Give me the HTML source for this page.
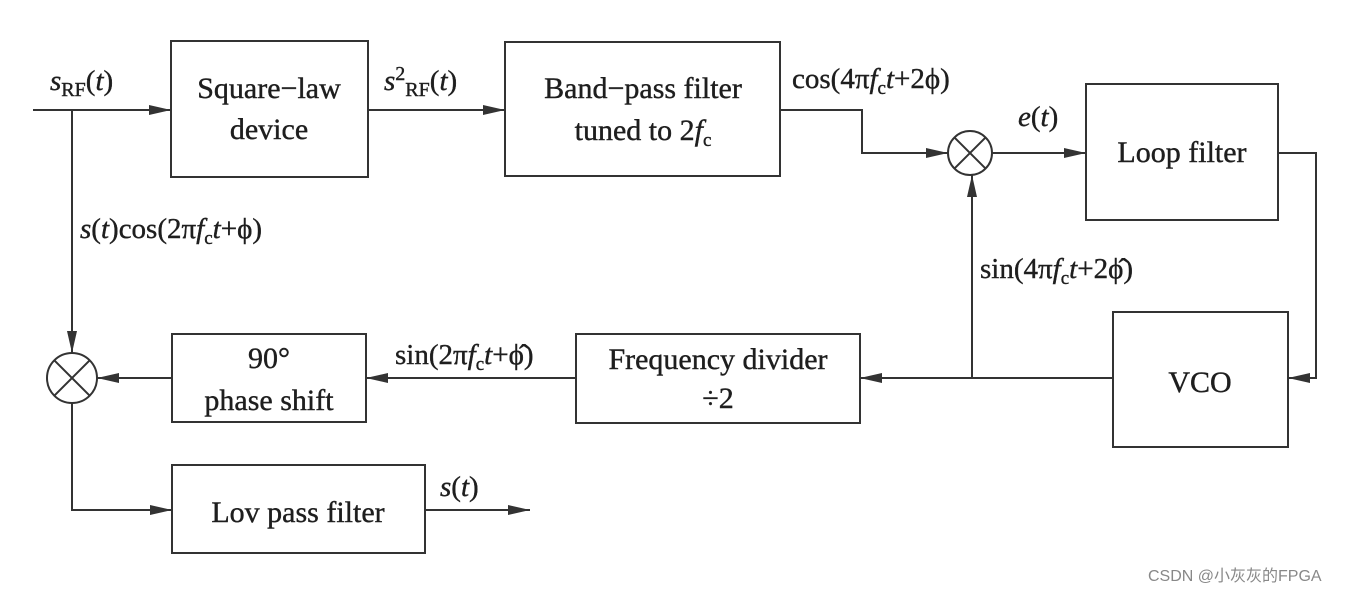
<!DOCTYPE html>
<html><head><meta charset="utf-8"><style>
body{margin:0;background:#fff}
svg{display:block}
text{font-family:"Liberation Serif",serif;fill:#1e1e1e;font-size:29px;stroke:#1e1e1e;stroke-width:0.4}
.b{font-size:30px}
.i{font-style:italic}
</style></head><body>
<svg width="1360" height="592" viewBox="0 0 1360 592">
<defs><marker id="a" markerWidth="22" markerHeight="10" refX="22" refY="5" orient="auto" markerUnits="userSpaceOnUse"><path d="M0,0 L22,5 L0,10 Z" fill="#333"/></marker></defs>
<g stroke="#333" stroke-width="2" fill="none">
<rect x="171" y="41" width="197" height="136"/>
<rect x="505" y="42" width="275" height="134"/>
<rect x="1086" y="84" width="192" height="136"/>
<rect x="1113" y="312" width="175" height="135"/>
<rect x="576" y="334" width="284" height="89"/>
<rect x="172" y="334" width="194" height="88"/>
<rect x="172" y="465" width="253" height="88"/>
<circle cx="970" cy="153" r="22"/><path d="M954.4,137.4 L985.6,168.6 M985.6,137.4 L954.4,168.6"/>
<circle cx="72" cy="378" r="25"/><path d="M54.3,360.3 L89.7,395.7 M89.7,360.3 L54.3,395.7"/>
<path d="M33,110 H171" marker-end="url(#a)"/>
<path d="M72,110 V353" marker-end="url(#a)"/>
<path d="M368,110 H505" marker-end="url(#a)"/>
<path d="M780,110 H862 V153 H948" marker-end="url(#a)"/>
<path d="M992,153 H1086" marker-end="url(#a)"/>
<path d="M1278,153 H1316 V378 H1288" marker-end="url(#a)"/>
<path d="M1113,378 H860" marker-end="url(#a)"/>
<path d="M972,378 V175" marker-end="url(#a)"/>
<path d="M576,378 H366" marker-end="url(#a)"/>
<path d="M172,378 H97" marker-end="url(#a)"/>
<path d="M72,403 V510 H172" marker-end="url(#a)"/>
<path d="M425,510 H530" marker-end="url(#a)"/>
</g>
<text class="b" x="269" y="98" text-anchor="middle">Square−law</text>
<text class="b" x="269" y="139" text-anchor="middle">device</text>
<text class="b" x="643" y="98" text-anchor="middle">Band−pass filter</text>
<text class="b" x="643" y="140" text-anchor="middle">tuned to 2<tspan class="i">f</tspan><tspan font-size="19" dy="6">c</tspan></text>
<text class="b" x="1182" y="162" text-anchor="middle">Loop filter</text>
<text class="b" x="1200" y="392" text-anchor="middle">VCO</text>
<text class="b" x="718" y="369" text-anchor="middle">Frequency divider</text>
<text class="b" x="718" y="408" text-anchor="middle">÷2</text>
<text class="b" x="269" y="368" text-anchor="middle">90°</text>
<text class="b" x="269" y="410" text-anchor="middle">phase shift</text>
<text class="b" x="298" y="522" text-anchor="middle">Lov pass filter</text>
<text x="50" y="90"><tspan class="i">s</tspan><tspan font-size="20" dy="6">RF</tspan><tspan dy="-6">(</tspan><tspan class="i">t</tspan>)</text>
<text x="384" y="90"><tspan class="i">s</tspan><tspan font-size="20" dy="-10">2</tspan><tspan font-size="20" dy="16">RF</tspan><tspan dy="-6">(</tspan><tspan class="i">t</tspan>)</text>
<text x="792" y="88">cos(4π<tspan class="i">f</tspan><tspan font-size="19" dy="6">c</tspan><tspan class="i" dy="-6">t</tspan>+2ϕ)</text>
<text x="1018" y="126"><tspan class="i">e</tspan>(<tspan class="i">t</tspan>)</text>
<text x="980" y="278">sin(4π<tspan class="i">f</tspan><tspan font-size="19" dy="6">c</tspan><tspan class="i" dy="-6">t</tspan>+2ϕ̂)</text>
<text x="395" y="364">sin(2π<tspan class="i">f</tspan><tspan font-size="19" dy="6">c</tspan><tspan class="i" dy="-6">t</tspan>+ϕ̂)</text>
<text x="80" y="238"><tspan class="i">s</tspan>(<tspan class="i">t</tspan>)cos(2π<tspan class="i">f</tspan><tspan font-size="19" dy="6">c</tspan><tspan class="i" dy="-6">t</tspan>+ϕ)</text>
<text x="440" y="496"><tspan class="i">s</tspan>(<tspan class="i">t</tspan>)</text>
<text x="1148" y="581" style='font-family:"Liberation Sans","Noto Sans CJK SC",sans-serif;font-size:16px;fill:#888;stroke:none'>CSDN @小灰灰的FPGA</text>
</svg>
</body></html>
